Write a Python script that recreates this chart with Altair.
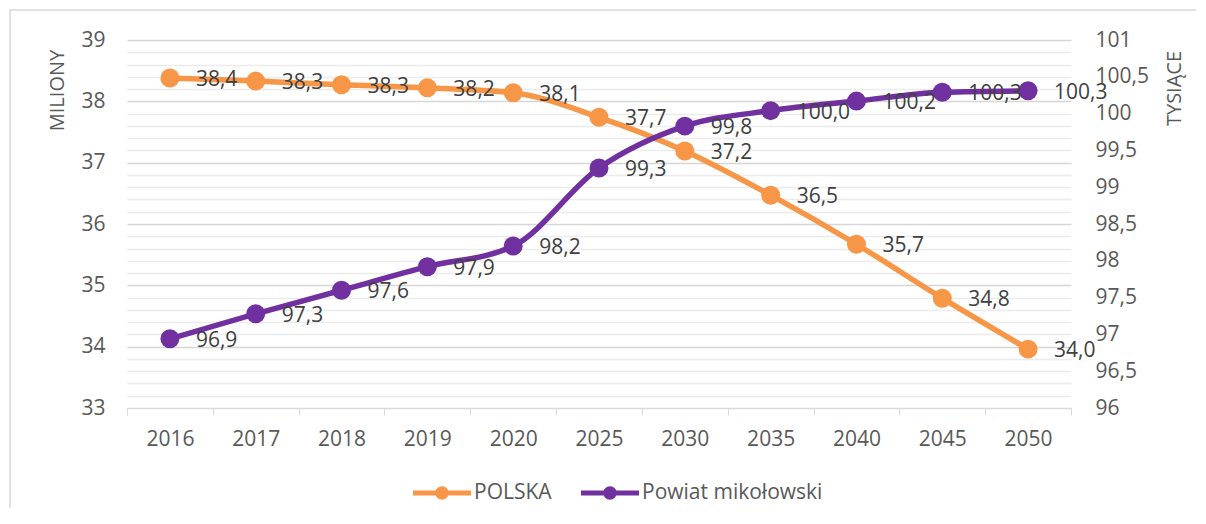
import altair as alt
import pandas as pd

# ---- data ----
years = ["2016", "2017", "2018", "2019", "2020", "2025", "2030", "2035", "2040", "2045", "2050"]
polska = [38.38, 38.33, 38.27, 38.22, 38.14, 37.74, 37.19, 36.47, 35.67, 34.79, 33.96]
powiat = [96.94, 97.28, 97.60, 97.92, 98.20, 99.26, 99.83, 100.04, 100.17, 100.29, 100.31]
series_names = ["POLSKA", "Powiat mikołowski"]
series_colors = ["#F79646", "#7030A0"]
left_ticks = [round(33 + 0.2 * i, 1) for i in range(31)]
right_ticks = [96, 96.5, 97, 97.5, 98, 98.5, 99, 99.5, 100, 100.5, 101]

df_p = pd.DataFrame({"year": years, "v": polska, "series": series_names[0]})
df_m = pd.DataFrame({"year": years, "v": powiat, "series": series_names[1]})

FONT = "Open Sans"
AXIS_COL = "#595959"
LABEL_COL = "#404040"
FS = 21

color_leg = alt.Color(
    "series:N",
    scale=alt.Scale(domain=series_names, range=series_colors),
    legend=alt.Legend(
        title=None,
        orient="none",
        direction="horizontal",
        legendX=286,
        legendY=424,
        symbolType="M-1,-0.09 L1,-0.09 L1,0.09 L-1,0.09 Z M-0.23,0 A0.23,0.23 0 1,1 0.23,0 A0.23,0.23 0 1,1 -0.23,0 Z",
        symbolSize=3364,
        symbolStrokeWidth=0,
        symbolOpacity=1,
        labelFont=FONT,
        labelFontSize=FS,
        labelColor=AXIS_COL,
        labelOffset=3,
        labelLimit=400,
        columnPadding=29,
    ),
)

x_enc = alt.X(
    "year:N",
    sort=years,
    scale=alt.Scale(type="band", paddingInner=0, paddingOuter=0),
    axis=alt.Axis(
        title=None,
        labelAngle=0,
        labelFont=FONT,
        labelFontSize=FS,
        labelColor=AXIS_COL,
        labelPadding=13,
        tickBand="extent",
        tickSize=7,
        tickColor="#d9d9d9",
        domainColor="#d9d9d9",
        grid=False,
    ),
)

y_left = alt.Y(
    "v:Q",
    scale=alt.Scale(domain=[33, 39], nice=False, zero=False),
    axis=alt.Axis(
        orient="left",
        values=left_ticks,
        labelExpr="datum.value % 1 === 0 ? format(datum.value, 'd') : ''",
        labelOverlap=False,
        grid=True,
        gridColor={"condition": {"test": "datum.value % 1 === 0", "value": "#d6d6d6"}, "value": "#ececec"},
        gridWidth=1.5,
        ticks=False,
        domain=False,
        labelFont=FONT,
        labelFontSize=FS,
        labelColor=AXIS_COL,
        labelPadding=22,
        title="MILIONY",
        titleFont=FONT,
        titleFontSize=20,
        titleFontWeight="normal",
        titleColor=AXIS_COL,
        titleAngle=270,
        titleX=-70,
        titleY=50,
        titleAlign="center",
        titleBaseline="middle",
    ),
)

y_right = alt.Y(
    "v:Q",
    scale=alt.Scale(domain=[96, 101], nice=False, zero=False),
    axis=alt.Axis(
        orient="right",
        values=right_ticks,
        labelExpr="replace(format(datum.value, '.1~f'), '.', ',')",
        labelOverlap=False,
        grid=False,
        ticks=False,
        domain=False,
        labelFont=FONT,
        labelFontSize=FS,
        labelColor=AXIS_COL,
        labelPadding=24,
        title="TYSIĄCE",
        titleFont=FONT,
        titleFontSize=20,
        titleFontWeight="normal",
        titleColor=AXIS_COL,
        titleAngle=270,
        titleX=103,
        titleY=48,
        titleAlign="center",
        titleBaseline="middle",
    ),
)

lbl_expr = "replace(format(datum.v, '.1f'), '.', ',')"


def series_layer(df, y_enc, col):
    base = alt.Chart(df).encode(x=x_enc, y=y_enc)
    line = base.mark_line(strokeWidth=5.5, interpolate="monotone", strokeCap="round", color=col)
    pts = base.mark_circle(size=360, opacity=1).encode(color=color_leg)
    txt = base.transform_calculate(lbl=lbl_expr).mark_text(
        align="left", baseline="middle", dx=26, dy=2, font=FONT, fontSize=FS, color=LABEL_COL
    ).encode(text="lbl:N")
    return line, pts, txt


lp, pp, tp = series_layer(df_p, y_left, series_colors[0])
lm, pm, tm = series_layer(df_m, y_right, series_colors[1])

frame = alt.Chart(pd.DataFrame({"f": [0]})).mark_rect(
    fillOpacity=0, stroke="#d9d9d9", strokeWidth=1.5
).encode(x=alt.value(-117), x2=alt.value(1100), y=alt.value(-30), y2=alt.value(520))

left = alt.layer(lp, pp, tp)
right = alt.layer(lm, pm, tm)

chart = (
    alt.layer(frame, left, right)
    .resolve_scale(y="independent")
    .properties(
        width=944,
        height=368,
        padding={"left": 119, "top": 32, "right": 125, "bottom": 100},
        autosize=alt.AutoSizeParams(type="none"),
    )
    .configure(font=FONT)
    .configure_view(strokeWidth=0)
)

chart.save("out.html", embed_options={"renderer": "svg", "actions": False})
